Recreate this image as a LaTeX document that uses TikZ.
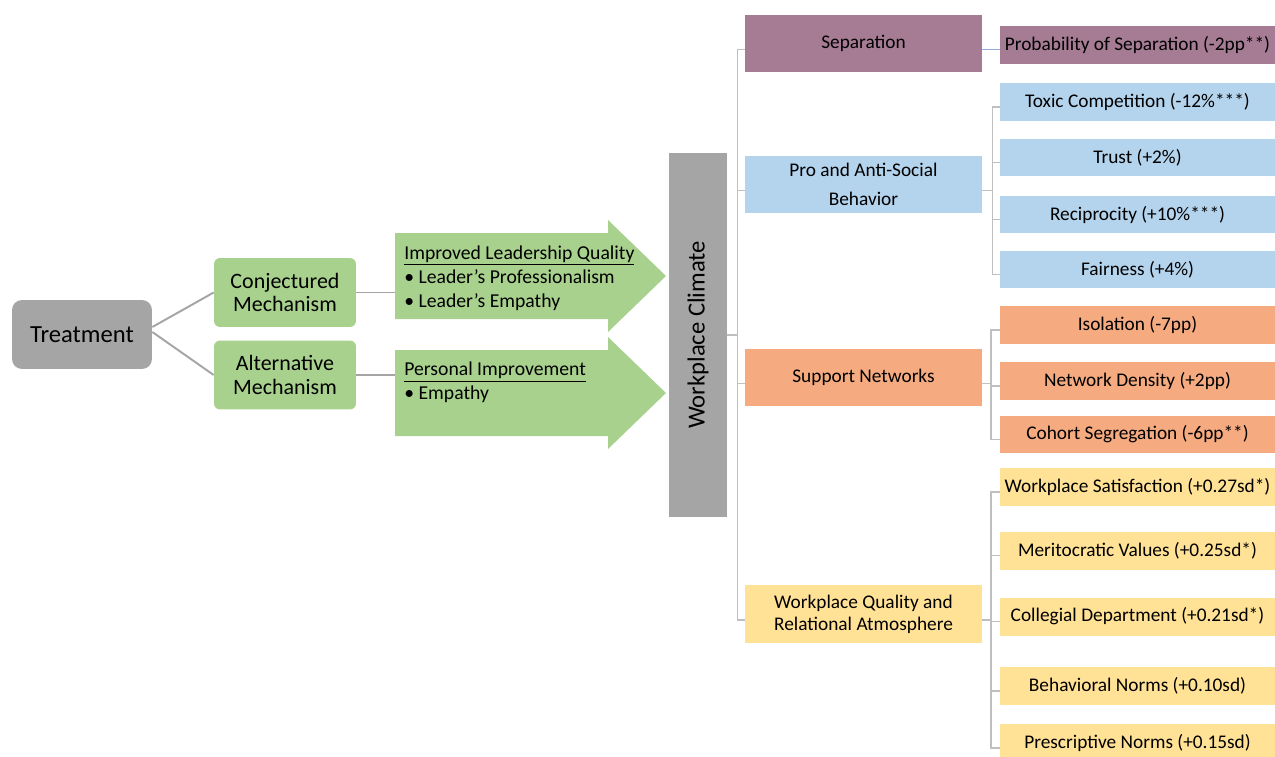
\documentclass[tikz,border=0pt]{standalone}
\usepackage{fontspec}
\setmainfont{Carlito}
\definecolor{treatgray}{HTML}{A5A5A5}
\definecolor{mechgreen}{HTML}{A9D18E}
\definecolor{sepmauve}{HTML}{A67C94}
\definecolor{socblue}{HTML}{B4D3EC}
\definecolor{netorange}{HTML}{F5AA80}
\definecolor{atmyellow}{HTML}{FFE296}
\definecolor{brkgray}{HTML}{BFBFBF}
\definecolor{sepline}{HTML}{8FAADC}
\begin{document}
\begin{tikzpicture}[x=0.02cm,y=-0.02cm,
  mech/.style={fill=mechgreen, rounded corners=0.12cm, minimum width=2.84cm, minimum height=1.38cm, align=center, font=\fontsize{12.5}{13.2}\selectfont},
  lvlone/.style={minimum width=4.74cm, minimum height=1.16cm, align=center, font=\fontsize{11}{12.5}\selectfont},
  lvltwo/.style={minimum width=5.5cm, minimum height=0.76cm, inner sep=1pt, font=\fontsize{11}{12.5}\selectfont},
  brk/.style={draw=brkgray, line width=0.8pt},
  link/.style={draw=treatgray, line width=1.1pt}]
\useasboundingbox (0,0) rectangle (1275,757);
\node[fill=treatgray, rounded corners=0.2cm, minimum width=2.8cm, minimum height=1.38cm, font=\fontsize{14}{16}\selectfont] (treat) at (82,334.5) {Treatment};
\node[mech] (conj) at (285,292.5) {Conjectured\\Mechanism};
\node[mech] (alt) at (285,375) {Alternative\\Mechanism};
\fill[mechgreen] (395,233) -- (608,233) -- (608,220) -- (666,276) -- (608,332) -- (608,319) -- (395,319) -- cycle;
\fill[mechgreen] (395,350) -- (608,350) -- (608,337) -- (666,393) -- (608,449) -- (608,436) -- (395,436) -- cycle;
\node[anchor=west, align=left, inner sep=0pt, font=\fontsize{11.2}{13.7}\selectfont] (lead) at (404,278) {\underline{Improved Leadership Quality}\\\textbullet{} Leader’s Professionalism\\\textbullet{} Leader’s Empathy};
\node[anchor=west, align=left, inner sep=0pt, font=\fontsize{11.2}{13.7}\selectfont] (pers) at (404,382.5) {\underline{Personal Improvement}\\\textbullet{} Empathy};
\coordinate (leadin) at (395,292.5);
\coordinate (persin) at (395,375);
\draw[link] ([yshift=1.5mm]treat.east) -- (conj.west);
\draw[link] ([yshift=0.5mm]treat.east) -- (alt.west);
\draw[link] (conj.east) -- (leadin);
\draw[link] (alt.east) -- (persin);
\node[fill=treatgray, rotate=90, minimum width=7.28cm, minimum height=1.16cm, font=\fontsize{14}{16}\selectfont] (clim) at (698,335) {Workplace Climate};
\node[lvlone, fill=sepmauve] (sep) at (863.5,43.5) {Separation};
\node[lvlone, fill=socblue] (pro) at (863.5,184.5) {Pro and Anti-Social\\[4pt]Behavior};
\node[lvlone, fill=netorange] (sup) at (863.5,377.5) {Support Networks};
\node[lvlone, fill=atmyellow] (wq) at (863.5,614) {Workplace Quality and\\Relational Atmosphere};
\node[lvltwo, fill=sepmauve] (prob) at (1137.5,45) {Probability of Separation (-2pp**)};
\foreach \name/\yy/\txt in {toxic/102/Toxic Competition (-12\%***), trust/157.5/Trust (+2\%), recip/214.5/Reciprocity (+10\%***), fair/269.5/Fairness (+4\%)}
  \node[lvltwo, fill=socblue] (\name) at (1137.5,\yy) {\txt};
\foreach \name/\yy/\txt in {iso/325/Isolation (-7pp), dens/381/Network Density (+2pp), coh/434.5/Cohort Segregation (-6pp**)}
  \node[lvltwo, fill=netorange] (\name) at (1137.5,\yy) {\txt};
\foreach \name/\yy/\txt in {wsat/487/Workplace Satisfaction (+0.27sd*), merit/550.5/Meritocratic Values (+0.25sd*), coll/616.5/Collegial Department (+0.21sd*), behav/686/Behavioral Norms (+0.10sd), presc/743/Prescriptive Norms (+0.15sd)}
  \node[lvltwo, fill=atmyellow] (\name) at (1137.5,\yy) {\txt};
\foreach \kid in {sep,pro,sup,wq}
  \draw[brk] (clim.south) -- ++(0.2cm,0) |- ([yshift=-1.2mm]\kid.west);
\draw[sepline, line width=1pt] ([yshift=-1.2mm]sep.east) -- ([yshift=-1.2mm]sep.east -| prob.west);
\foreach \kid in {toxic,trust,recip,fair}
  \draw[brk] ([yshift=-1.2mm]pro.east) -- ++(0.2cm,0) |- ([yshift=-1mm]\kid.west);
\foreach \kid in {iso,dens,coh}
  \draw[brk] ([yshift=-1.2mm]sup.east) -- ++(0.17cm,0) |- ([yshift=-1mm]\kid.west);
\foreach \kid in {wsat,merit,coll,behav,presc}
  \draw[brk] ([yshift=-1.2mm]wq.east) -- ++(0.17cm,0) |- ([yshift=-1mm]\kid.west);
\end{tikzpicture}
\end{document}
